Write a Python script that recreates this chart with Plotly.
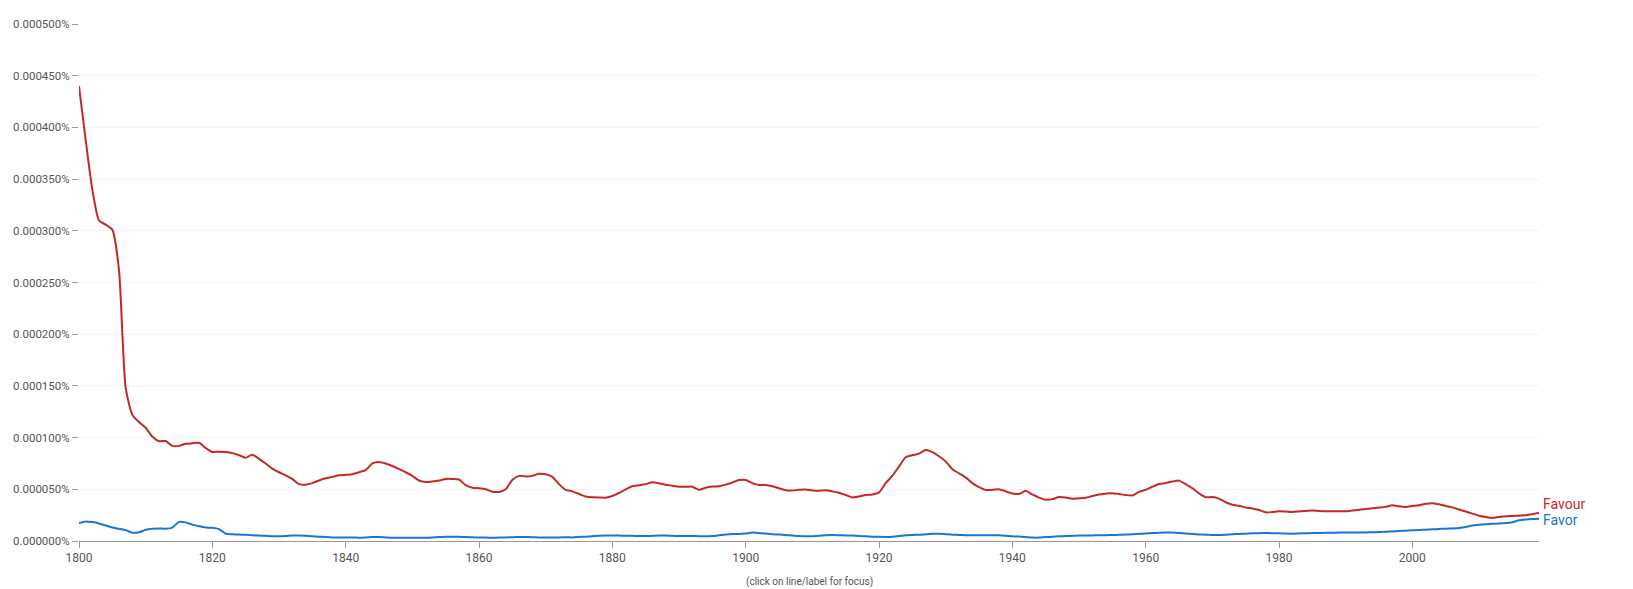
import plotly.graph_objects as go

# Years 1800..2019
years = list(range(1800, 2020))

# Values in millionths of a percent (1e-6 %)
favour_e6 = [
    440, 388, 340, 310, 306, 301, 262, 148, 122, 115,
    109.5, 101, 96.5, 96.7, 92, 92, 94, 94.5, 95, 90,
    86, 86.4, 86, 85, 83, 80.5, 83.5, 79.5, 75, 70,
    66.5, 63.5, 60, 55, 54.5, 56, 58.5, 60.6, 62, 63.5,
    64, 64.5, 66.5, 68.5, 75, 76.5, 75, 72.5, 69.5, 66.5,
    63, 58.5, 57, 57.5, 58.5, 60, 60, 59.5, 54, 51.5,
    51, 50, 47.7, 47.5, 50, 59, 63, 62.5, 63, 65,
    64.5, 62, 55, 49.5, 48, 45.5, 43, 42.2, 42, 41.9,
    43.5, 46.5, 50, 53, 54, 55, 56.8, 55.8, 54.5, 53.5,
    52.5, 52.5, 52.5, 49.5, 51.5, 52.6, 53, 54.5, 56.5, 59,
    59, 56, 54.2, 54.2, 53, 51, 49, 48.8, 49.5, 49.8,
    48.8, 48.5, 49.2, 48, 46.7, 44.5, 42.2, 43, 44.5, 45,
    47, 56, 63, 72, 81, 83, 84.5, 88, 86, 82,
    77, 69.5, 65.5, 61.5, 56, 52, 49.3, 49.5, 50, 48,
    46, 45.5, 48.5, 45, 42, 40, 40.5, 42.5, 42, 40.8,
    41.3, 41.8, 43.5, 45, 45.8, 46.3, 45.5, 44.5, 44, 47.5,
    49.5, 52.5, 55.2, 56, 57.5, 58.4, 55, 51, 46, 42.3,
    42.5, 41, 37.5, 35, 34, 32.5, 31.5, 30, 27.7, 28,
    28.7, 28.5, 28.1, 28.6, 29.1, 29.4, 29, 28.7, 28.7, 28.7,
    28.7, 29.5, 30.2, 31, 31.6, 32.3, 33, 34.5, 33.5, 33,
    33.8, 34.5, 36, 36.6, 35.5, 34, 32.5, 30.5, 28.5, 26.5,
    24.5, 23.2, 22.3, 23.2, 23.9, 24.2, 24.5, 24.8, 26, 27,
]

favor_e6 = [
    17.3, 18.9, 18.3, 17, 15, 13, 11.8, 10.5, 8, 8.5,
    10.8, 11.8, 12.2, 11.9, 13, 18.5, 18, 15.8, 14.2, 13,
    12.8, 11.5, 7, 6.5, 6.2, 6, 5.5, 5.2, 5, 4.6,
    4.5, 4.8, 5.3, 5.3, 5, 4.5, 4.2, 3.8, 3.5, 3.4,
    3.3, 3.4, 3.2, 3.5, 3.9, 3.8, 3.5, 3.2, 3.2, 3.2,
    3.2, 3.2, 3.2, 3.5, 3.9, 4.2, 4.2, 4.2, 3.9, 3.6,
    3.4, 3.3, 3.2, 3.3, 3.5, 3.7, 3.9, 3.9, 3.7, 3.4,
    3.3, 3.3, 3.5, 3.6, 3.5, 3.8, 4.2, 4.6, 5, 5.2,
    5.2, 5.2, 5.1, 5, 4.9, 4.8, 5, 5.2, 5.2, 5,
    4.9, 4.8, 4.8, 4.7, 4.5, 4.8, 5.5, 6.3, 6.8, 6.8,
    7.3, 8.1, 7.8, 7.2, 6.5, 6.2, 5.8, 5.3, 4.8, 4.5,
    4.6, 5, 5.5, 5.8, 5.6, 5.4, 5.2, 4.9, 4.5, 4.2,
    4, 3.9, 4.2, 4.8, 5.6, 5.9, 6.1, 6.5, 6.9, 7.1,
    6.6, 6.1, 5.8, 5.6, 5.5, 5.5, 5.5, 5.5, 5.5, 5.1,
    4.6, 4.3, 3.8, 3.3, 3.3, 3.8, 4.1, 4.5, 4.8, 5,
    5.2, 5.3, 5.4, 5.5, 5.6, 5.8, 6, 6.3, 6.5, 6.9,
    7.3, 7.7, 8, 8.3, 8.2, 7.8, 7.2, 6.7, 6.4, 6.1,
    5.9, 5.8, 6.1, 6.5, 6.8, 7.1, 7.4, 7.6, 7.7, 7.6,
    7.4, 7.2, 7.1, 7.3, 7.5, 7.7, 7.8, 7.9, 8, 8.1,
    8.2, 8.2, 8.3, 8.3, 8.4, 8.6, 9, 9.3, 9.7, 10,
    10.3, 10.6, 11, 11.3, 11.6, 11.9, 12.2, 12.6, 13.5, 15,
    15.8, 16.3, 16.6, 17, 17.4, 18.2, 20, 20.8, 21.3, 21.6,
]

y_ticks_pct = [0.0, 0.00005, 0.0001, 0.00015, 0.0002, 0.00025,
               0.0003, 0.00035, 0.0004, 0.00045, 0.0005]
y_tick_labels = ["0.000000%", "0.000050%", "0.000100%", "0.000150%", "0.000200%",
                 "0.000250%", "0.000300%", "0.000350%", "0.000400%", "0.000450%",
                 "0.000500%"]
x_ticks = [1800, 1820, 1840, 1860, 1880, 1900, 1920, 1940, 1960, 1980, 2000]

RED = "#c62828"
BLUE = "#1976d2"

favour = [v * 1e-6 for v in favour_e6]
favor = [v * 1e-6 for v in favor_e6]

fig = go.Figure()
fig.add_trace(go.Scatter(x=years, y=favour, mode="lines", name="Favour",
                         line=dict(color=RED, width=2, shape="spline", smoothing=0.6),
                         hoverinfo="skip"))
fig.add_trace(go.Scatter(x=years, y=favor, mode="lines", name="Favor",
                         line=dict(color=BLUE, width=2, shape="spline", smoothing=0.6),
                         hoverinfo="skip"))

# end labels
fig.add_annotation(x=years[-1], y=favour[-1], text="Favour", showarrow=False,
                   xanchor="left", yanchor="middle", xshift=2, yshift=9,
                   font=dict(color=RED, size=14, family="Roboto"))
fig.add_annotation(x=years[-1], y=favor[-1], text="Favor", showarrow=False,
                   xanchor="left", yanchor="middle", xshift=2, yshift=-1,
                   font=dict(color=BLUE, size=14, family="Roboto"))

fig.add_annotation(x=0.5, xref="paper", y=-0.063, yref="paper",
                   text="(click on line/label for focus)", showarrow=False,
                   xanchor="center", yanchor="top",
                   font=dict(color="#555555", size=10, family="Roboto"))

fig.update_layout(
    width=1633, height=589,
    margin=dict(l=79, r=94, t=24, b=48),
    paper_bgcolor="white", plot_bgcolor="white",
    showlegend=False,
    font=dict(family="Roboto", color="#555555", size=11),
    xaxis=dict(range=[1800, 2019], tickvals=x_ticks, ticks="outside", ticklen=6,
               tickcolor="#999999", showgrid=False, showline=True, linecolor="#999999",
               linewidth=1, zeroline=False, tickfont=dict(size=12, color="#555555")),
    yaxis=dict(range=[0, 0.0005], tickvals=y_ticks_pct, ticktext=y_tick_labels,
               ticks="outside", ticklen=6, tickcolor="#999999", showgrid=True,
               gridcolor="#f2f2f2", gridwidth=1, showline=False, zeroline=False,
               tickfont=dict(size=11.5, color="#555555")),
)

fig.write_html("out.html")
